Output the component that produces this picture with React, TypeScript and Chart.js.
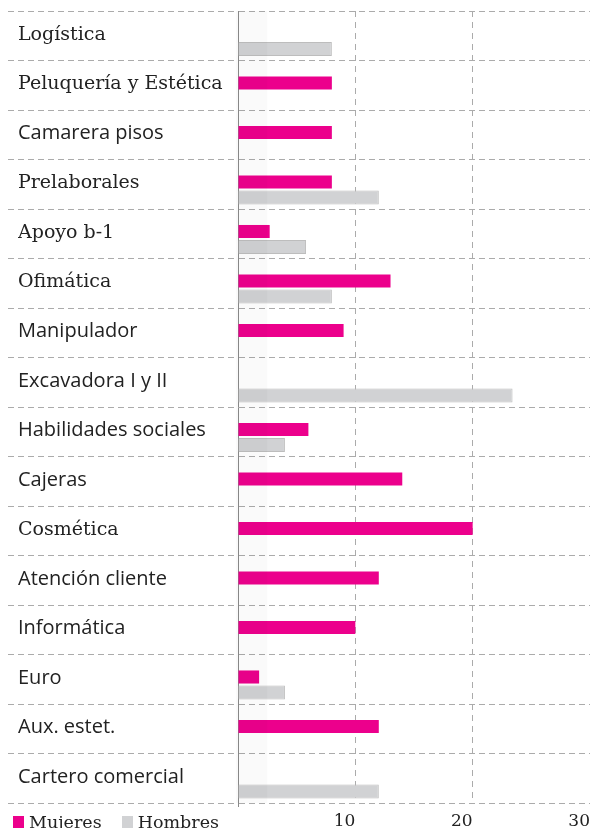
import React, { useEffect, useRef } from "react";
import { Chart, registerables } from "chart.js";

Chart.register(...registerables);

const categories = [
  "Logística",
  "Peluquería y Estética",
  "Camarera pisos",
  "Prelaborales",
  "Apoyo b-1",
  "Ofimática",
  "Manipulador",
  "Excavadora I y II",
  "Habilidades sociales",
  "Cajeras",
  "Cosmética",
  "Atención cliente",
  "Informática",
  "Euro",
  "Aux. estet.",
  "Cartero comercial",
];

const mujeres = [null, 8, 8, 8, 2.7, 13, 9, null, 6, 14, 20, 12, 10, 1.8, 12, null];
const hombres = [8, null, null, 12, 5.8, 8, null, 23.4, 4, null, null, null, null, 4, null, 12];

const serifLabels = ["Logística", "Peluquería y Estética", "Prelaborales", "Apoyo b-1", "Ofimática", "Cosmética"];

const xMin = 0;
const xMax = 30;
const xStep = 10;

const seriesNames = ["Mujeres", "Hombres"];

const PINK = "#ec008c";
const GRAY = "#d1d2d4";
const GRID = "#ababab";
const AXIS = "#8a8a8a";
const SERIF = "'DejaVu Serif', serif";
const SANS = "'Open Sans', sans-serif";

// faint shaded band near the origin of the value axis
const bandPlugin = {
  id: "originBand",
  afterDatasetsDraw(chart: any) {
    const { ctx, chartArea, scales } = chart;
    const x0 = scales.x.getPixelForValue(0);
    const x1 = scales.x.getPixelForValue(2.5);
    ctx.save();
    ctx.fillStyle = "rgba(0,0,0,0.018)";
    ctx.fillRect(x0 - 2, chartArea.top, x1 - x0 + 2, chartArea.bottom - chartArea.top);
    ctx.restore();
  },
};

export default function App() {
  const ref = useRef<HTMLCanvasElement>(null);

  useEffect(() => {
    const chart = new Chart(ref.current!, {
      type: "bar",
      data: {
        labels: categories,
        datasets: [
          {
            label: seriesNames[0],
            data: mujeres,
            backgroundColor: PINK,
            borderWidth: 0,
            categoryPercentage: 0.182,
            barPercentage: 2.9,
          },
          {
            label: seriesNames[1],
            data: hombres,
            backgroundColor: GRAY,
            borderColor: "#bdbdbd",
            borderWidth: 1,
            categoryPercentage: 1.07,
            barPercentage: 0.53,
          },
        ],
      },
      plugins: [bandPlugin],
      options: {
        indexAxis: "y",
        animation: false,
        responsive: true,
        maintainAspectRatio: false,
        layout: { padding: { left: 10, right: 6, top: 3, bottom: 0 } },
        plugins: {
          legend: { display: false },
          tooltip: { enabled: false },
        },
        scales: {
          x: {
            min: xMin,
            max: xMax,
            position: "bottom",
            border: { display: false, dash: [6, 5] },
            grid: {
              color: (ctx: any) => (ctx.tick && ctx.tick.value === 0 ? "rgba(0,0,0,0)" : GRID),
              drawTicks: true,
              tickLength: 4,
              tickColor: (ctx: any) => (ctx.tick && ctx.tick.value === 0 ? AXIS : "rgba(0,0,0,0)"),
            },
            ticks: {
              stepSize: xStep,
              align: "end",
              padding: 6,
              maxRotation: 0,
              color: "#222",
              font: { family: SERIF, size: 17, lineHeight: 1 },
              callback: (v: any) => (v === 0 ? "" : String(v)),
            },
            afterFit: (scale: any) => {
              scale.height = 25;
              scale.paddingLeft = 0;
              scale.paddingRight = 0;
            },
          },
          y: {
            position: "left",
            border: { display: true, color: AXIS, width: 1, dash: [6, 4] },
            grid: {
              color: GRID,
              offset: true,
              drawTicks: true,
              tickLength: 230,
              tickColor: GRID,
              tickBorderDash: [6, 4],
            },
            ticks: {
              autoSkip: false,
              crossAlign: "far",
              labelOffset: -1,
              padding: 0,
              color: "#222",
              font: (ctx: any) => {
                const name = categories[ctx.index];
                return serifLabels.includes(name)
                  ? { family: SERIF, size: 19 }
                  : { family: SANS, size: 20 };
              },
            },
            afterFit: (scale: any) => {
              scale.width = 220;
              scale.paddingTop = 0;
              scale.paddingBottom = 0;
            },
          },
        },
      },
    } as any);
    return () => chart.destroy();
  }, []);

  const legendItem = (color: string, text: string, ml: number) => (
    <span style={{ display: "inline-flex", alignItems: "center", marginLeft: ml }}>
      <span style={{ display: "inline-block", width: 11, height: 13, background: color, marginRight: 5 }} />
      <span>{text}</span>
    </span>
  );

  return (
    <div style={{ position: "relative", width: 588, height: 820 }}>
      <canvas ref={ref} style={{ display: "block" }} />
      <div
        style={{
          position: "absolute",
          left: 5,
          top: 804,
          lineHeight: "20px",
          fontFamily: SERIF,
          fontSize: 17.5,
          color: "#222",
          display: "flex",
          whiteSpace: "nowrap",
        }}
      >
        {legendItem(PINK, seriesNames[0], 0)}
        {legendItem(GRAY, seriesNames[1], 20)}
      </div>
    </div>
  );
}
